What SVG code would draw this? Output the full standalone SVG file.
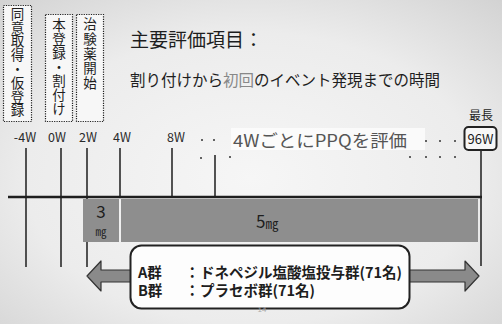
<svg xmlns="http://www.w3.org/2000/svg" width="502" height="324" viewBox="0 0 502 324">
<defs>
<radialGradient id="bg" cx="0.5" cy="0.55" r="0.75">
<stop offset="0" stop-color="#f6f6f6"/>
<stop offset="0.6" stop-color="#ececec"/>
<stop offset="1" stop-color="#d2d2d2"/>
</radialGradient>
<style>
.jp{font-family:"Noto Sans CJK JP","Noto Sans",sans-serif;fill:#1e1e1e}
.vt{font-size:13.5px;writing-mode:vertical-rl;text-orientation:upright}
.tick{font-size:12.5px;text-anchor:middle;fill:#2a2a2a}
.vbox{fill:#f7f7f7;stroke:#222;stroke-width:1.2;stroke-dasharray:1.2 1.2}
.tl{stroke:#2a2a2a;stroke-width:1.6;fill:none}
.bar{fill:#8e8e8e}
.dot{fill:#333}
.grp{font-size:14.5px;font-weight:bold}
</style>
</defs>
<rect width="502" height="324" fill="url(#bg)"/>

<g id="box-consent">
<rect class="vbox" x="3.5" y="5.5" width="28" height="116"/>
<text class="jp vt" x="17.5" y="7" letter-spacing="0.3">同意取得・仮登録</text>
</g>

<g id="box-registration">
<rect class="vbox" x="45.5" y="14.5" width="27" height="107"/>
<text class="jp vt" x="59" y="18" letter-spacing="0.5">本登録・割付け</text>
</g>

<g id="box-drug-start">
<rect class="vbox" x="76.5" y="14.5" width="27" height="107"/>
<text class="jp vt" x="90" y="17.5" letter-spacing="1.2">治験薬開始</text>
</g>

<g id="title">
<text class="jp" x="130" y="47" font-size="19">主要評価項目：</text>
<text class="jp" x="130" y="86" font-size="15.5">割り付けから<tspan fill="#888">初回</tspan>のイベント発現までの時間</text>
</g>

<g id="tick-labels" class="jp tick">
<text x="25" y="142">-4W</text>
<text x="57" y="142">0W</text>
<text x="88" y="142">2W</text>
<text x="122" y="142">4W</text>
<text x="176" y="142">8W</text>
</g>

<g id="ppq-note">
<rect x="231" y="128" width="194" height="22" fill="#fcfcfc" opacity="0.8"/>
<text class="jp" x="233" y="147" font-size="17" textLength="174" lengthAdjust="spacingAndGlyphs" style="fill:#555">4WごとにPPQを評価</text>
<g class="dot">
<circle cx="202" cy="140" r="1"/>
<circle cx="214" cy="140" r="1"/>
<circle cx="201" cy="158" r="1"/>
<circle cx="230" cy="157" r="1"/>
<circle cx="426" cy="141" r="1"/>
<circle cx="440" cy="141" r="1"/>
<circle cx="455" cy="141" r="1"/>
<circle cx="410" cy="157" r="1"/>
<circle cx="426" cy="157" r="1"/>
<circle cx="440" cy="157" r="1"/>
<circle cx="455" cy="157" r="1"/>
</g>
</g>

<g id="max-96w">
<text class="jp" x="481" y="120" font-size="12" text-anchor="middle">最長</text>
<rect x="464.5" y="127" width="32" height="23" rx="4" fill="#f7f7f7" stroke="#222" stroke-width="2"/>
<text class="jp" x="480.5" y="144" font-size="13" text-anchor="middle">96W</text>
</g>

<g id="connectors">
<line class="tl" x1="26" y1="148" x2="26" y2="267"/>
<line class="tl" x1="61" y1="148" x2="61" y2="267"/>
<line class="tl" x1="87" y1="148" x2="87" y2="267"/>
<line class="tl" x1="120" y1="148" x2="120" y2="197"/>
<line class="tl" x1="172" y1="148" x2="172" y2="197"/>
<line class="tl" x1="215" y1="155" x2="215" y2="197"/>
<line class="tl" x1="481" y1="150" x2="481" y2="266"/>
<line x1="8" y1="197" x2="482" y2="197" stroke="#1e1e1e" stroke-width="2.4"/>
</g>

<g id="dose-3mg">
<rect class="bar" x="83" y="199" width="36" height="43"/>
<text class="jp" x="101" y="218" font-size="17" text-anchor="middle">3</text>
<text class="jp" x="101" y="236" font-size="11" text-anchor="middle">㎎</text>
</g>

<g id="dose-5mg">
<rect class="bar" x="121" y="199" width="357" height="43"/>
<text class="jp" x="256" y="228" font-size="17">5<tspan font-size="13">㎎</tspan></text>
</g>

<g id="arrow">
<polygon points="87,276 101,261 101,270 465,270 465,261 479,276 465,291 465,282 101,282 101,291" fill="#8a8a8a" stroke="#333" stroke-width="1.2" stroke-linejoin="round"/>
</g>

<g id="groups-box">
<rect x="130.5" y="245.5" width="279" height="63" rx="11" fill="#fdfdfd" stroke="#222" stroke-width="2"/>
<text class="jp grp"><tspan x="138" y="278">A群</tspan><tspan x="185" y="278">：</tspan><tspan x="200" y="278">ドネペジル塩酸塩投与群(71名)</tspan><tspan x="138" y="296">B群</tspan><tspan x="185" y="296">：</tspan><tspan x="200" y="296">プラセボ群(71名)</tspan></text>
<text x="262" y="312" font-family="Liberation Sans, sans-serif" font-size="8" fill="#aaa" text-anchor="middle">14</text>
</g>
</svg>
